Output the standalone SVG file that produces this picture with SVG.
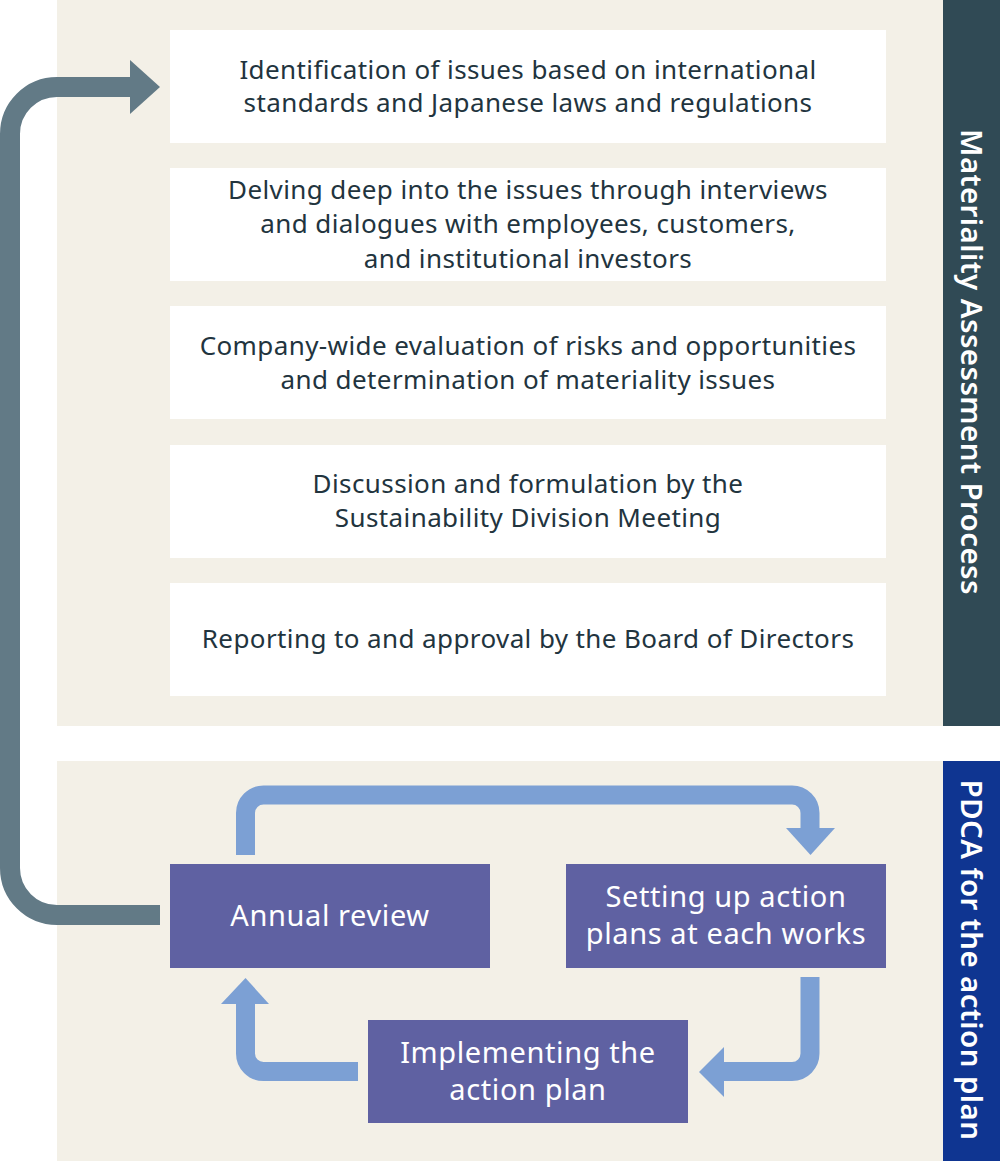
<svg xmlns="http://www.w3.org/2000/svg" width="1000" height="1161" viewBox="0 0 1000 1161">
<style>
.panel{fill:#f3f0e7}
.wbox{fill:#ffffff}
.pbox{fill:#5f61a2}
.t{font-family:"Noto Sans","Open Sans",sans-serif;font-size:26px;letter-spacing:0.4px;fill:#22343e;text-anchor:middle}
.pt{font-family:"Noto Sans","Open Sans",sans-serif;font-size:29px;letter-spacing:0.6px;fill:#ffffff;text-anchor:middle}
.side{font-family:"Noto Sans","Open Sans",sans-serif;font-size:29.5px;font-weight:600;letter-spacing:0.4px;fill:#ffffff;text-anchor:middle}
.grey{fill:none;stroke:#627a86;stroke-width:20}
.blue{fill:none;stroke:#7ca0d4;stroke-width:19}
</style>
<rect width="1000" height="1161" fill="#ffffff"/>
<rect class="panel" x="57" y="0" width="886" height="726"/>
<rect class="panel" x="57" y="761" width="886" height="400"/>
<g id="side-materiality">
<rect x="943" y="0" width="57" height="726" fill="#304a55"/>
<text class="side" transform="translate(961,362) rotate(90)">Materiality Assessment Process</text>
</g>
<g id="side-pdca">
<rect x="943" y="761" width="57" height="400" fill="#0f3591"/>
<text class="side" transform="translate(961,960) rotate(90)">PDCA for the action plan</text>
</g>
<g id="step1">
<rect class="wbox" x="170" y="30" width="716" height="113"/>
<text class="t" x="528" y="79">Identification of issues based on international</text>
<text class="t" x="528" y="112">standards and Japanese laws and regulations</text>
</g>
<g id="step2">
<rect class="wbox" x="170" y="168" width="716" height="113"/>
<text class="t" x="528" y="199">Delving deep into the issues through interviews</text>
<text class="t" x="528" y="233">and dialogues with employees, customers,</text>
<text class="t" x="528" y="268">and institutional investors</text>
</g>
<g id="step3">
<rect class="wbox" x="170" y="306" width="716" height="113"/>
<text class="t" x="528" y="355">Company-wide evaluation of risks and opportunities</text>
<text class="t" x="528" y="389">and determination of materiality issues</text>
</g>
<g id="step4">
<rect class="wbox" x="170" y="445" width="716" height="113"/>
<text class="t" x="528" y="493">Discussion and formulation by the</text>
<text class="t" x="528" y="527">Sustainability Division Meeting</text>
</g>
<g id="step5">
<rect class="wbox" x="170" y="583" width="716" height="113"/>
<text class="t" x="528" y="648">Reporting to and approval by the Board of Directors</text>
</g>
<g id="annual-review">
<rect class="pbox" x="170" y="864" width="320" height="104"/>
<text class="pt" x="330" y="926">Annual review</text>
</g>
<g id="setting-up">
<rect class="pbox" x="566" y="864" width="320" height="104"/>
<text class="pt" x="726" y="907">Setting up action</text>
<text class="pt" x="726" y="944">plans at each works</text>
</g>
<g id="implementing">
<rect class="pbox" x="368" y="1020" width="320" height="103"/>
<text class="pt" x="528" y="1063">Implementing the</text>
<text class="pt" x="528" y="1100">action plan</text>
</g>
<g id="connectors">
<path class="grey" d="M160,915 H57 A47,47 0 0 1 10,868 V134 A47,47 0 0 1 57,87 H132"/>
<polygon points="130,60 160,87 130,114" fill="#627a86"/>
<path class="blue" d="M245.5,855 V813 A18,18 0 0 1 263.5,795 H792 A18,18 0 0 1 810,813 V829"/>
<polygon points="786,828 835,828 810.5,855" fill="#7ca0d4"/>
<path class="blue" d="M810,977 V1053 A18,18 0 0 1 792,1071.5 H723"/>
<polygon points="724,1047 724,1097 699,1072" fill="#7ca0d4"/>
<path class="blue" d="M358,1071.5 H263.5 A18,18 0 0 1 245.5,1053.5 V1003"/>
<polygon points="221,1004 269,1004 245.5,978" fill="#7ca0d4"/>
</g>
</svg>
